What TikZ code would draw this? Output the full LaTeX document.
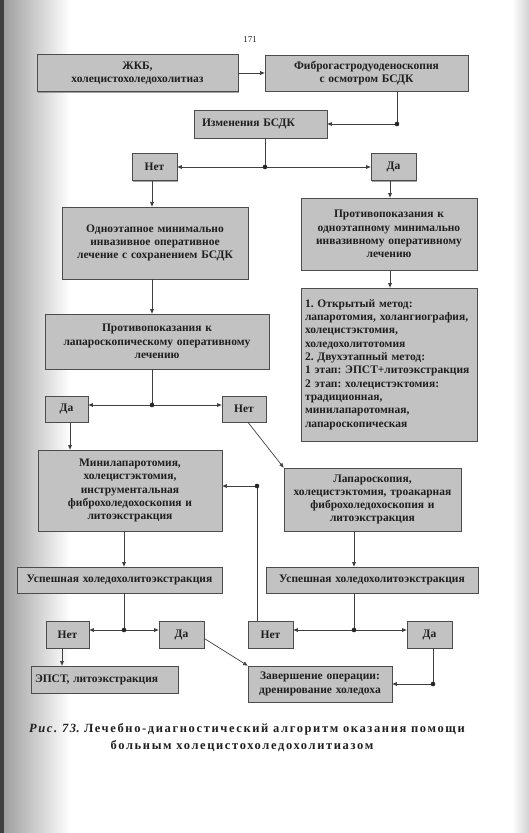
\documentclass[tikz,border=0pt]{standalone}
\usepackage{fontspec}
\setmainfont{Liberation Serif}
\newfontfamily\capfont[LetterSpace=13]{Liberation Serif}
\usetikzlibrary{arrows.meta,shadows,calc}
\begin{document}
\frenchspacing
\begin{tikzpicture}[x=1pt,y=-1pt,
  every node/.style={font=\fontsize{11.5}{13.3}\selectfont\bfseries, text=black!88},
  box/.style={draw=black!70, line width=0.7pt, fill=gray!48, inner xsep=3pt, inner ysep=1pt, align=center,
    drop shadow={shadow xshift=1.2pt, shadow yshift=-1.2pt, fill=black!60, opacity=0.6}},
  ln/.style={draw=black!75, line width=0.7pt},
  arr/.style={ln, -{Triangle[length=4.5pt,width=3.6pt]}},
  dot/.style={fill=black!85}
]
\useasboundingbox (0,0) rectangle (529,833);
% page background
\fill[white] (0,0) rectangle (529,833);
\shade[left color=gray!80, right color=white] (0,0) rectangle (70,833);
\fill[black!75] (0,0) rectangle (4,833);
\shade[left color=white, right color=gray!35] (512,0) rectangle (529,833);

\node (pg) at (250,40) {\fontsize{9}{10}\selectfont\mdseries 171};

% boxes
\node[box, minimum width=201pt, text width=195pt, minimum height=37pt] (zhkb) at (137.5,73) {ЖКБ,\\холецистохоледохолитиаз};
\node[box, minimum width=203pt, text width=197pt, minimum height=36pt] (fgds) at (366.5,73) {Фиброгастродуоденоскопия\\с осмотром БСДК};
\node[box, inner xsep=8pt, text width=117pt, align=left, minimum height=28pt] (izm) at (260.5,124) {Изменения БСДК};
\node[box, minimum width=45pt, text width=39pt, minimum height=27pt] (net1) at (154.5,167) {Нет};
\node[box, minimum width=45pt, text width=39pt, minimum height=27pt] (da1) at (393.5,167) {Да};
\node[box, text width=180pt, minimum height=72pt] (odno) at (155,243) {Одноэтапное минимально\\инвазивное оперативное\\лечение с сохранением БСДК};
\node[box, text width=170pt, minimum height=72pt] (prot1) at (389,234) {Противопоказания к\\одноэтапному минимально\\инвазивному оперативному\\лечению};
\node[box, inner xsep=4pt, text width=168pt, align=left, minimum height=153pt] (open) at (389,364.5) {1. Открытый метод:\\лапаротомия, холангиография,\\холецистэктомия,\\холедохолитотомия\\2. Двухэтапный метод:\\1 этап: ЭПСТ+литоэкстракция\\2 этап: холецистэктомия:\\традиционная,\\минилапаротомная,\\лапароскопическая};
\node[box, text width=218pt, minimum height=55pt] (prot2) at (157,341.5) {Противопоказания к\\лапароскопическому оперативному\\лечению};
\node[box, text width=37pt, minimum height=26pt] (da2) at (66.5,409) {Да};
\node[box, text width=38pt, minimum height=26pt] (net2) at (244,409) {Нет};
\node[box, text width=178pt, minimum height=81pt] (mini) at (130,490.5) {Минилапаротомия,\\холецистэктомия,\\инструментальная\\фиброхоледохоскопия и\\литоэкстракция};
\node[box, text width=171pt, minimum height=63pt] (lapar) at (372.5,499.5) {Лапароскопия,\\холецистэктомия, троакарная\\фиброхоледохоскопия и\\литоэкстракция};
\node[box, text width=199pt, minimum height=26pt] (usp1) at (119.5,580) {Успешная холедохолитоэкстракция};
\node[box, text width=206pt, minimum height=26pt] (usp2) at (372,580) {Успешная холедохолитоэкстракция};
\node[box, text width=37pt, minimum height=27pt] (net3) at (67.5,634.5) {Нет};
\node[box, text width=39pt, minimum height=27pt] (da3) at (181.5,634.5) {Да};
\node[box, text width=39pt, minimum height=27pt] (net4) at (270.5,634.5) {Нет};
\node[box, text width=39pt, minimum height=27pt] (da4) at (429.5,634.5) {Да};
\node[box, inner xsep=4pt, text width=139pt, align=left, minimum height=27pt] (epst) at (104.5,679.5) {ЭПСТ, литоэкстракция};
\node[box, text width=138pt, minimum height=36pt] (zav) at (320,684) {Завершение операции:\\дренирование холедоха};

% junctions and columns
\coordinate (d1) at (397,124);
\coordinate (d2) at (265,167);
\coordinate (d3) at (152,405);
\coordinate (d4) at (124,630);
\coordinate (d5) at (354,630);
\coordinate (d6) at (433,684);
\coordinate (d7) at (257,486);
\coordinate (cA) at (152,0);
\coordinate (cB) at (390,0);
\coordinate (cC) at (70,0);
\coordinate (cF) at (62,0);

% connectors
\draw[arr] (zhkb) -- (fgds);
\draw[ln] (fgds.south -| d1) -- (d1);
\draw[arr] (d1) -- (d1 -| izm.east);
\draw[ln] (izm.south -| d2) -- (d2);
\draw[arr] (d2) -- (d2 -| net1.east);
\draw[arr] (d2) -- (d2 -| da1.west);
\draw[arr] (net1.south -| cA) -- (odno.north -| cA);
\draw[arr] (da1.south -| cB) -- (prot1.north -| cB);
\draw[arr] (prot1.south -| cB) -- (open.north -| cB);
\draw[arr] (odno.south -| cA) -- (prot2.north -| cA);
\draw[ln] (prot2.south -| cA) -- (d3);
\draw[arr] (d3) -- (d3 -| da2.east);
\draw[arr] (d3) -- (d3 -| net2.west);
\draw[arr] (da2.south -| cC) -- (mini.north -| cC);
\draw[arr] ([xshift=4pt]net2.south) -- (lapar.north west);
\draw[arr] (mini.south -| d4) -- (usp1.north -| d4);
\draw[arr] (lapar.south -| d5) -- (usp2.north -| d5);
\draw[ln] (usp1.south -| d4) -- (d4);
\draw[arr] (d4) -- (d4 -| net3.east);
\draw[arr] (d4) -- (d4 -| da3.west);
\draw[ln] (usp2.south -| d5) -- (d5);
\draw[arr] (d5) -- (d5 -| net4.east);
\draw[arr] (d5) -- (d5 -| da4.west);
\draw[arr] (net3.south -| cF) -- (epst.north -| cF);
\draw[arr] ([yshift=-4pt]da3.east) -- (zav.north west);
\draw[ln] (da4.south -| d6) -- (d6);
\draw[arr] (d6) -- (d6 -| zav.east);
\draw[ln] (net4.north -| d7) -- (d7);
\draw[arr] (d7) -- (d7 -| mini.east);
\foreach \d in {d1,d2,d3,d4,d5,d6,d7} \fill[dot] (\d) circle (2.3);

% caption
\node[font=\capfont\bfseries\fontsize{12.5}{14}\selectfont] (cap1) at (247,729) {\textit{Рис. 73}. Лечебно-диагностический алгоритм оказания помощи};
\node[font=\capfont\bfseries\fontsize{12.5}{14}\selectfont] (cap2) at (242,746) {больным холецистохоледохолитиазом};
\end{tikzpicture}
\end{document}
